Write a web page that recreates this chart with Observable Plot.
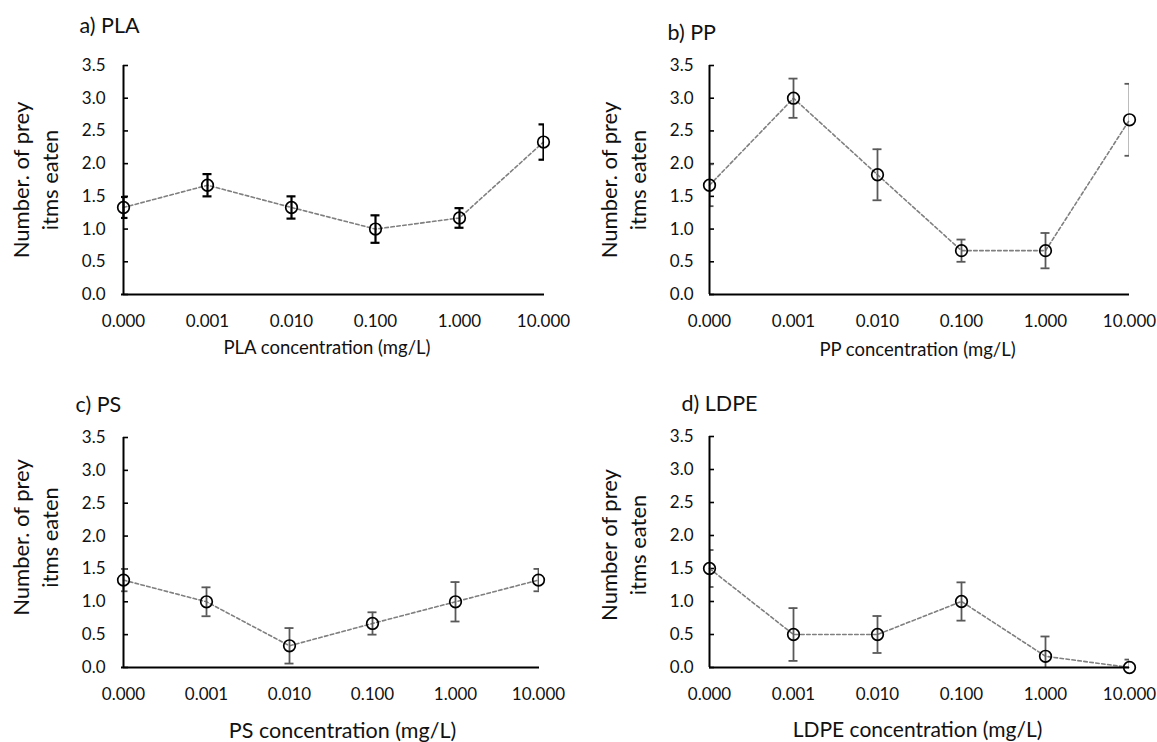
<!DOCTYPE html>
<html>
<head>
<meta charset="utf-8">
<script src="https://cdn.jsdelivr.net/npm/d3@7"></script>
<script src="https://cdn.jsdelivr.net/npm/@observablehq/plot@0.6"></script>
<style>
  html, body { margin: 0; padding: 0; background: #fff; }
  #fig { position: relative; width: 1157px; height: 742px; background: #fff; font-family: Lato, sans-serif; }
  .panel { position: absolute; }
</style>
</head>
<body>
<div id="fig"></div>
<script>
// ---- data ----
const concentrations = ["0.000", "0.001", "0.010", "0.100", "1.000", "10.000"];
const yTicks = [0, 0.5, 1.0, 1.5, 2.0, 2.5, 3.0, 3.5];

const plaMean = [1.33, 1.67, 1.33, 1.00, 1.17, 2.33];
const plaErr  = [0.16, 0.17, 0.17, 0.21, 0.15, 0.27];

const ppMean  = [1.67, 3.00, 1.83, 0.67, 0.67, 2.67];
const ppErr   = [0.32, 0.30, 0.39, 0.17, 0.27, 0.55];

const psMean  = [1.33, 1.00, 0.33, 0.67, 1.00, 1.33];
const psErr   = [0.17, 0.22, 0.27, 0.17, 0.30, 0.17];

const ldpeMean = [1.50, 0.50, 0.50, 1.00, 0.17, 0.00];
const ldpeErr  = [0.28, 0.40, 0.28, 0.29, 0.30, 0.12];

const titles  = ["a) PLA", "b) PP", "c) PS", "d) LDPE"];
const xTitles = ["PLA concentration (mg/L)", "PP concentration (mg/L)", "PS concentration (mg/L)", "LDPE concentration (mg/L)"];
const yTitleLine1 = ["Number. of prey", "Number. of prey", "Number. of prey", "Number of prey"];
const yTitleLine2 = ["itms eaten", "itms eaten", "itms eaten", "itms eaten"];

// ---- layout / style (not data) ----
const layouts = [
  {left: 0,   top: 0,   width: 579, height: 371, ml: 121, mr: 35, mt: 65, mb: 77,
   err: "#000", errW: 2.2, titleDx: -42, titleDy: -39, xtDx: -6, xtDy: 54, xtSize: 18.5, ytDy: 0},
  {left: 579, top: 0,   width: 578, height: 371, ml: 130, mr: 28, mt: 65, mb: 77,
   err: "#595959", errW: 1.8, titleDx: -42, titleDy: -32, xtDx: -2, xtDy: 56, xtSize: 18.5, ytDy: 0},
  {left: 0,   top: 371, width: 579, height: 371, ml: 121, mr: 40, mt: 66, mb: 75,
   err: "#595959", errW: 1.8, titleDx: -46, titleDy: -32, xtDx: 12, xtDy: 64, xtSize: 21.5, ytDy: -15},
  {left: 579, top: 371, width: 578, height: 371, ml: 130, mr: 28, mt: 65, mb: 75,
   err: "#595959", errW: 1.8, titleDx: -28, titleDy: -32, xtDx: -2, xtDy: 63, xtSize: 21, ytDy: -7}
];

const series = [[plaMean, plaErr], [ppMean, ppErr], [psMean, psErr], [ldpeMean, ldpeErr]];

function makePanel(k) {
  const L = layouts[k];
  const [mean, err] = series[k];
  const data = concentrations.map((c, j) => ({c, v: mean[j], e: err[j]}));
  const x0 = concentrations[0];
  const fam = "Lato, 'Open Sans', sans-serif";
  const ink = "#111";
  return Plot.plot({
    width: L.width,
    height: L.height,
    marginLeft: L.ml,
    marginRight: L.mr,
    marginTop: L.mt,
    marginBottom: L.mb,
    x: {type: "point", domain: concentrations, padding: 0},
    y: {domain: [0, 3.5]},
    style: {fontFamily: fam, color: ink, background: "transparent", overflow: "visible"},
    marks: [
      Plot.axisX({tickSize: 0, tickPadding: 20, fontSize: 17, label: null, fill: ink}),
      Plot.axisY({ticks: yTicks, tickFormat: d3.format(".1f"), tickSize: 0, tickPadding: 16, fontSize: 17, label: null, fill: ink}),
      // inward tick marks on the y axis
      Plot.ruleY(yTicks, {y: d => d, x1: () => x0, x2: () => x0, insetRight: -5, stroke: "#000", strokeWidth: 1.6}),
      // dashed connecting line
      Plot.line(data, {x: "c", y: "v", stroke: "#7f7f7f", strokeWidth: 1.6, strokeDasharray: "3.5,2.5"}),
      // error bars
      Plot.ruleX(data, {x: "c", y1: d => d.v - d.e, y2: d => d.v + d.e, stroke: L.err, strokeWidth: L.errW, clip: true}),
      Plot.ruleY(data, {y: d => d.v + d.e, x1: "c", x2: "c", insetLeft: -4.5, insetRight: -4.5, stroke: L.err, strokeWidth: L.errW, clip: true}),
      Plot.ruleY(data, {y: d => d.v - d.e, x1: "c", x2: "c", insetLeft: -4.5, insetRight: -4.5, stroke: L.err, strokeWidth: L.errW, clip: true}),
      // axis lines
      Plot.ruleY([0], {stroke: "#000", strokeWidth: 2}),
      Plot.ruleX([x0], {stroke: "#000", strokeWidth: 2}),
      // markers
      Plot.dot(data, {x: "c", y: "v", r: 5.8, stroke: "#000", strokeWidth: 1.7, fill: "none"}),
      // panel title
      Plot.text([titles[k]], {frameAnchor: "top-left", textAnchor: "start", lineAnchor: "middle",
        dx: L.titleDx, dy: L.titleDy, fontSize: 21.5, fill: ink}),
      // x axis title
      Plot.text([xTitles[k]], {frameAnchor: "bottom", textAnchor: "middle", lineAnchor: "middle",
        dx: L.xtDx, dy: L.xtDy, fontSize: L.xtSize, fill: ink}),
      // y axis title (two lines)
      Plot.text([yTitleLine1[k]], {frameAnchor: "left", rotate: -90, textAnchor: "middle", lineAnchor: "bottom",
        dx: -93, dy: L.ytDy, fontSize: 22, fill: ink}),
      Plot.text([yTitleLine2[k]], {frameAnchor: "left", rotate: -90, textAnchor: "middle", lineAnchor: "bottom",
        dx: -64, dy: L.ytDy, fontSize: 22, fill: ink})
    ]
  });
}

const fig = document.getElementById("fig");
layouts.forEach((L, k) => {
  const div = document.createElement("div");
  div.className = "panel";
  div.style.left = L.left + "px";
  div.style.top = L.top + "px";
  div.appendChild(makePanel(k));
  fig.appendChild(div);
});
</script>
</body>
</html>
